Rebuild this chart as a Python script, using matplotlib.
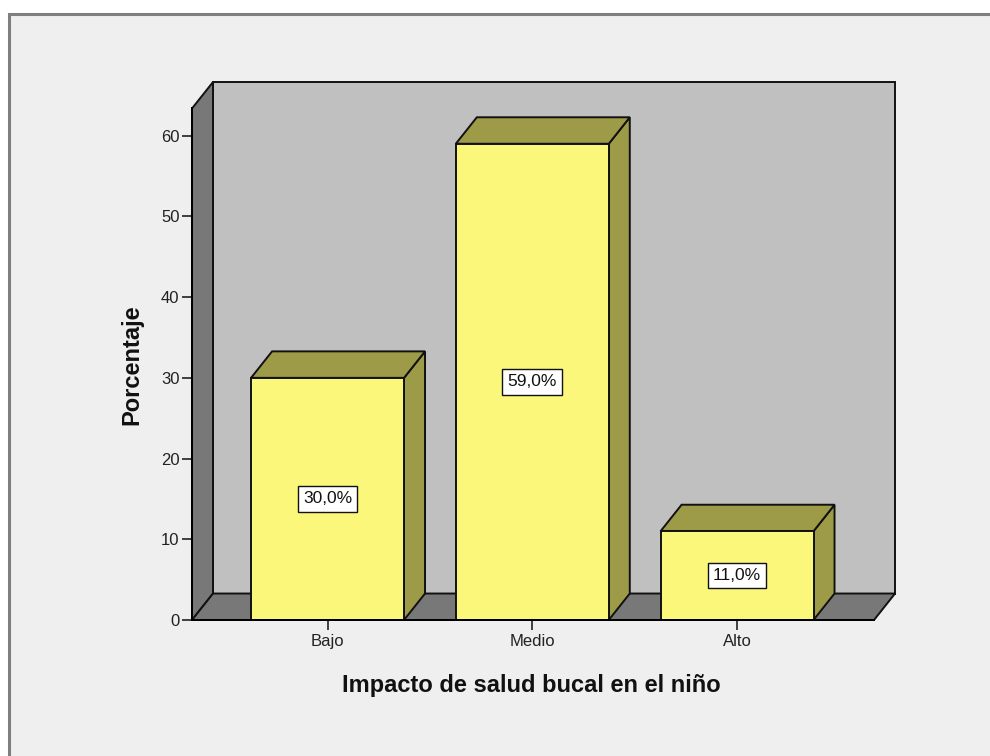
import matplotlib
matplotlib.use("Agg")
import matplotlib.pyplot as plt
from matplotlib.patches import Rectangle, Polygon

plt.rcParams['font.family'] = ['Liberation Sans', 'DejaVu Sans']

# Data
categories = ["Bajo", "Medio", "Alto"]
percentages = [30.0, 59.0, 11.0]
value_labels = ["30,0%", "59,0%", "11,0%"]
y_ticks = [0, 10, 20, 30, 40, 50, 60]

# Styling
BACK_WALL = "#c0c0c0"
SIDE_WALL = "#787878"
BAR_FRONT = "#faf77a"
BAR_SHADE = "#9e9b48"
EDGE = "#111111"
PANEL = "#efefef"

W, H = 990, 756
fig = plt.figure(figsize=(W / 100, H / 100), dpi=100, facecolor="white")

# outer panel with grey frame, kept behind the axes
fig.patches.append(Rectangle((8.5 / W, -0.05), 1.1, (H - 13.5) / H + 0.05,
                             transform=fig.transFigure, facecolor=PANEL,
                             edgecolor="#7f7f7f", linewidth=2.2, zorder=-5))

# 3D geometry in data units
x0, x1 = -0.662, 2.669          # front floor extent
ymax = 63.37                    # front height of walls
dx, dy = 0.1026, 3.28           # depth offset
bar_w = 0.747

ax = fig.add_axes([192 / W, 136 / H, (x1 + dx - x0) * 204.75 / W, 538 / H])
ax.set_xlim(x0, x1 + dx)
ax.set_ylim(0, ymax + dy)
ax.patch.set_visible(False)

lw = 1.4
# back wall
ax.add_patch(Rectangle((x0 + dx, dy), x1 - x0, ymax, facecolor=BACK_WALL,
                       edgecolor=EDGE, linewidth=lw, zorder=1, clip_on=False))
# left wall
ax.add_patch(Polygon([(x0, 0), (x0 + dx, dy), (x0 + dx, ymax + dy), (x0, ymax)],
                     closed=True, facecolor=SIDE_WALL, edgecolor=EDGE,
                     linewidth=lw, zorder=2, clip_on=False))
# floor
ax.add_patch(Polygon([(x0, 0), (x1, 0), (x1 + dx, dy), (x0 + dx, dy)],
                     closed=True, facecolor=SIDE_WALL, edgecolor=EDGE,
                     linewidth=lw, zorder=2, clip_on=False))

# bars
for i, (v, lab) in enumerate(zip(percentages, value_labels)):
    l, r = i - bar_w / 2, i + bar_w / 2
    ax.add_patch(Polygon([(r, 0), (r + dx, dy), (r + dx, v + dy), (r, v)],
                         closed=True, facecolor=BAR_SHADE, edgecolor=EDGE,
                         linewidth=lw, zorder=3))
    ax.add_patch(Polygon([(l, v), (r, v), (r + dx, v + dy), (l + dx, v + dy)],
                         closed=True, facecolor=BAR_SHADE, edgecolor=EDGE,
                         linewidth=lw, zorder=3))
    ax.add_patch(Rectangle((l, 0), bar_w, v, facecolor=BAR_FRONT,
                           edgecolor=EDGE, linewidth=lw, zorder=4))
    ax.text(i, v / 2, lab, ha="center", va="center", fontsize=12.5, color="#111111",
            zorder=5, bbox=dict(boxstyle="square,pad=0.3", facecolor="white",
                                edgecolor=EDGE, linewidth=1.0))

# axes and ticks
for s in ["top", "right"]:
    ax.spines[s].set_visible(False)
ax.spines["left"].set_bounds(0, ymax)
ax.spines["bottom"].set_bounds(x0, x1)
ax.spines["left"].set_linewidth(lw)
ax.spines["bottom"].set_linewidth(lw)
ax.spines["left"].set_zorder(6)
ax.spines["bottom"].set_zorder(6)
ax.set_yticks(y_ticks)
ax.set_xticks(range(len(categories)))
ax.set_xticklabels(categories)
ax.tick_params(axis="both", length=7, width=1.2, labelsize=12, colors="#222222", pad=2)
ax.tick_params(axis="x", pad=3)

ax.set_ylabel("Porcentaje", fontsize=17, fontweight="bold", color="#111111")
ax.set_xlabel("Impacto de salud bucal en el niño", fontsize=17,
              fontweight="bold", color="#111111")
ax.yaxis.set_label_coords(-0.0697, 0.474)
ax.xaxis.set_label_coords(0.482, -0.100)

fig.savefig("out.png", dpi=100, facecolor="white")
